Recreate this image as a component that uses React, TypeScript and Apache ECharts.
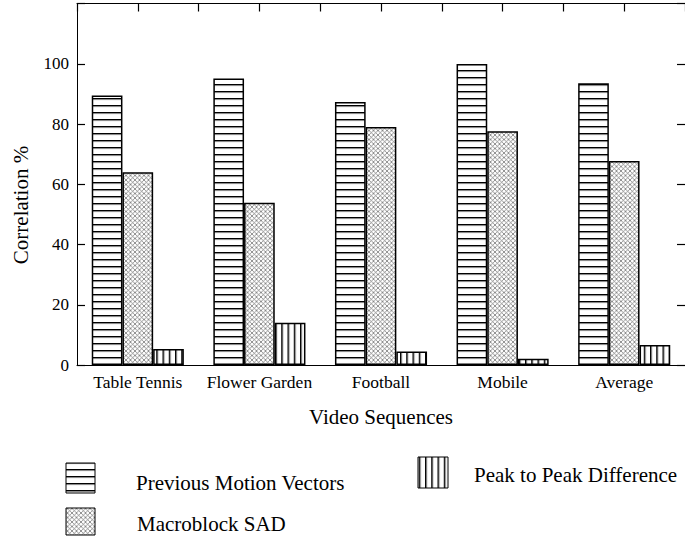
import React, { useEffect, useRef } from 'react';
import * as echarts from 'echarts';

const categories = ['Table Tennis', 'Flower Garden', 'Football', 'Mobile', 'Average'];
const previousMotionVectors = [89.5, 95.1, 87.3, 99.9, 93.5];
const macroblockSAD = [64.0, 53.9, 79.0, 77.6, 67.7];
const peakToPeakDifference = [5.3, 14.0, 4.5, 2.1, 6.6];
const seriesNames = ['Previous Motion Vectors', 'Macroblock SAD', 'Peak to Peak Difference'];
const yTickLabels = [0, 20, 40, 60, 80, 100];

const FONT = "'Liberation Serif', 'Times New Roman', Times, serif";

function svgUri(w: number, h: number, body: string): string {
  return (
    'data:image/svg+xml;charset=utf-8,' +
    encodeURIComponent(
      `<svg xmlns="http://www.w3.org/2000/svg" width="${w}" height="${h}">${body}</svg>`
    )
  );
}

const hPattern: any = {
  image: svgUri(
    8,
    7,
    '<rect width="8" height="7" fill="#fff"/><rect width="8" height="1.5" fill="#000"/><rect y="1.5" width="8" height="0.6" fill="#999"/>'
  ),
  repeat: 'repeat',
  imageWidth: 8,
  imageHeight: 7,
};

const xPattern: any = {
  image: svgUri(
    4.5,
    4.5,
    '<rect width="4.5" height="4.5" fill="#fff"/><path d="M0 0L4.5 4.5M4.5 0L0 4.5" stroke="#666" stroke-width="0.7" fill="none"/>'
  ),
  repeat: 'repeat',
  imageWidth: 4.5,
  imageHeight: 4.5,
};

const vPattern: any = {
  image: svgUri(
    6.25,
    8,
    '<rect width="6.25" height="8" fill="#fff"/><rect width="1.5" height="8" fill="#000"/><rect x="1.5" width="0.6" height="8" fill="#999"/>'
  ),
  repeat: 'repeat',
  imageWidth: 6.25,
  imageHeight: 8,
};

const patterns = [hPattern, xPattern, vPattern];
const seriesData = [previousMotionVectors, macroblockSAD, peakToPeakDifference];

const axisLineStyle = { color: '#000', width: 1 };
const tickStyle = { color: '#000', width: 1.2 };

function label(text: string, x: number, y: number, extra: any = {}) {
  return {
    type: 'text',
    x,
    y,
    ...extra,
    style: {
      text,
      fill: '#000',
      fontFamily: FONT,
      fontSize: 21,
      align: extra.rotation ? 'center' : 'left',
      verticalAlign: 'middle',
    },
  };
}

export default function App() {
  const ref = useRef<HTMLDivElement>(null);

  useEffect(() => {
    document.body.style.margin = '0';
    if (!ref.current) return;
    const chart = echarts.init(ref.current, null, { renderer: 'svg' });

    const option: any = {
      animation: false,
      backgroundColor: '#fff',
      grid: { left: 77, right: -7, top: 3.5, bottom: 172, containLabel: false },
      xAxis: [
        {
          type: 'category',
          data: categories,
          position: 'bottom',
          axisLine: { show: true, onZero: false, lineStyle: axisLineStyle },
          axisTick: { show: false },
          axisLabel: {
            color: '#000',
            fontFamily: FONT,
            fontSize: 17.5,
            margin: 8,
            interval: 0,
          },
          splitLine: { show: false },
          name: 'Video Sequences',
          nameLocation: 'middle',
          nameGap: 41,
          nameTextStyle: { color: '#000', fontFamily: FONT, fontSize: 21 },
        },
        {
          type: 'value',
          position: 'top',
          min: 0,
          max: 5,
          interval: 0.5,
          axisLine: { show: true, onZero: false, lineStyle: axisLineStyle },
          axisTick: { show: true, inside: true, length: 8, lineStyle: tickStyle },
          axisLabel: { show: false },
          splitLine: { show: false },
        },
      ],
      yAxis: [
        {
          type: 'value',
          position: 'left',
          min: 0,
          max: 120,
          interval: 20,
          axisLine: { show: true, onZero: false, lineStyle: axisLineStyle },
          axisTick: { show: true, inside: true, length: 8, lineStyle: tickStyle },
          axisLabel: {
            color: '#000',
            fontFamily: FONT,
            fontSize: 17,
            margin: 8,
            formatter: (v: number) => (yTickLabels.includes(v) ? String(v) : ''),
          },
          splitLine: { show: false },
        },
        {
          type: 'value',
          position: 'right',
          min: 0,
          max: 120,
          interval: 20,
          axisLine: { show: true, onZero: false, lineStyle: axisLineStyle },
          axisTick: { show: true, inside: true, length: 8, lineStyle: tickStyle },
          axisLabel: { show: false },
          splitLine: { show: false },
        },
      ],
      series: seriesNames.map((name, i) => ({
        name,
        type: 'bar',
        xAxisIndex: 0,
        yAxisIndex: 0,
        data: seriesData[i],
        barWidth: 30.7,
        barGap: '0%',
        silent: true,
        itemStyle: { color: patterns[i], borderColor: '#000', borderWidth: 1.5 },
      })),
      graphic: [
        label('Correlation %', 21, 205, { rotation: Math.PI / 2 }),
        {
          type: 'rect',
          shape: { x: 66, y: 463, width: 29, height: 30 },
          style: { fill: hPattern, stroke: '#000', lineWidth: 1 },
        },
        label(seriesNames[0], 136, 482.5),
        {
          type: 'rect',
          shape: { x: 66, y: 508, width: 29, height: 27 },
          style: { fill: xPattern, stroke: '#000', lineWidth: 1 },
        },
        label(seriesNames[1], 137, 523.5),
        {
          type: 'rect',
          shape: { x: 418, y: 457, width: 30, height: 31 },
          style: { fill: vPattern, stroke: '#000', lineWidth: 1 },
        },
        label(seriesNames[2], 474, 474.5),
      ],
    };

    chart.setOption(option);
    return () => {
      chart.dispose();
    };
  }, []);

  return <div ref={ref} style={{ width: 685, height: 537 }} />;
}
